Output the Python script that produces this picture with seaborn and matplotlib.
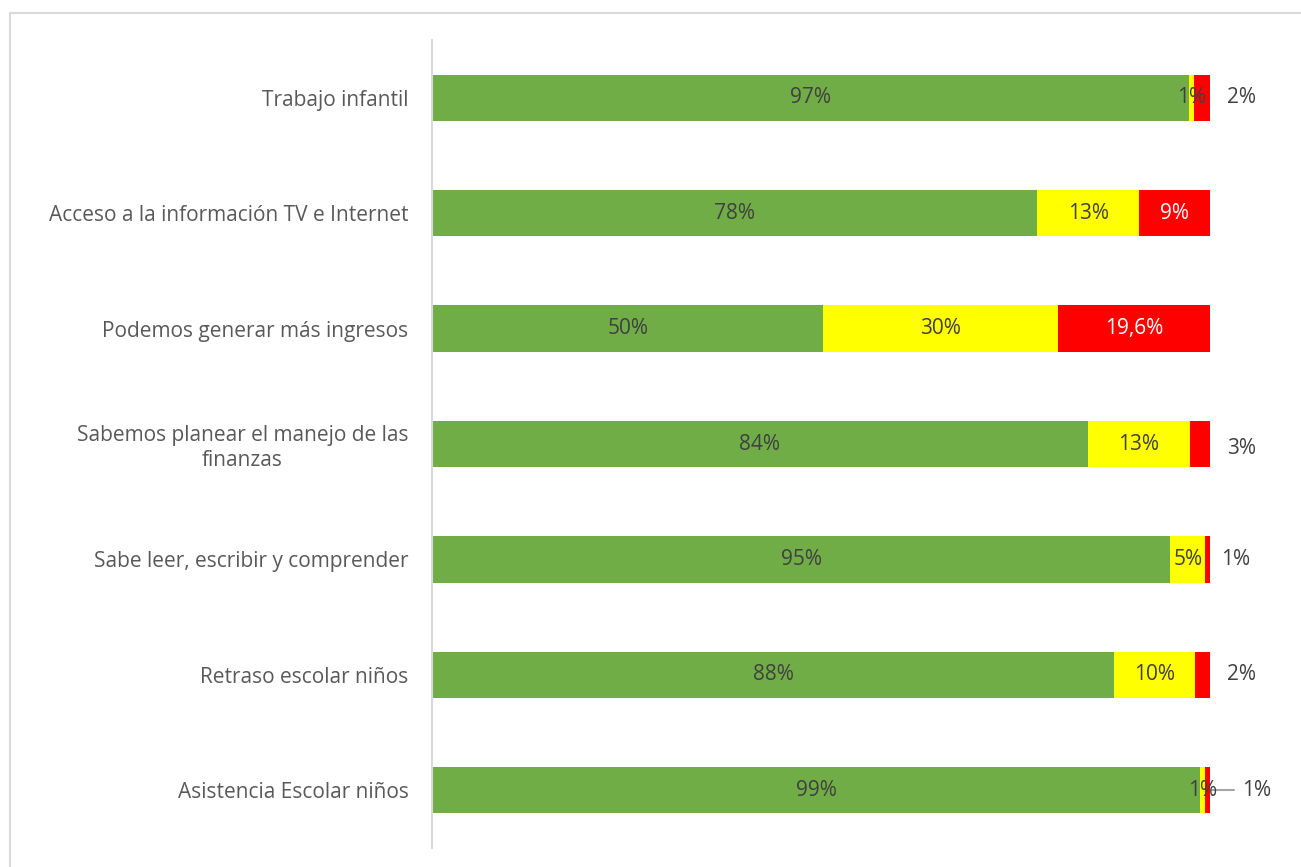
import matplotlib
matplotlib.use("Agg")
import matplotlib.pyplot as plt
import seaborn as sns
import pandas as pd

# Data (percent of respondents)
categories = [
    "Trabajo infantil",
    "Acceso a la información TV e Internet",
    "Podemos generar más ingresos",
    "Sabemos planear el manejo de las\nfinanzas",
    "Sabe leer, escribir y comprender",
    "Retraso escolar niños",
    "Asistencia Escolar niños",
]
green_vals = [97.3, 77.8, 50.3, 84.3, 94.9, 87.7, 98.7]
yellow_vals = [0.7, 13.1, 30.1, 13.1, 4.5, 10.4, 0.65]
red_vals = [2.0, 9.1, 19.6, 2.6, 0.6, 1.9, 0.65]

green_labels = ["97%", "78%", "50%", "84%", "95%", "88%", "99%"]
yellow_labels = ["1%", "13%", "30%", "13%", "5%", "10%", "1%"]
red_labels = ["2%", "9%", "19,6%", "3%", "1%", "2%", "1%"]

GREEN, YELLOW, RED = "#70AD47", "#FFFF00", "#FF0000"
TXT = "#404040"

df = pd.DataFrame({"cat": categories, "g": green_vals, "y": yellow_vals, "r": red_vals})
df["gy"] = df["g"] + df["y"]
df["tot"] = df["gy"] + df["r"]

sns.set_style("white")
plt.rcParams["font.family"] = ["Open Sans", "DejaVu Sans"]

fig = plt.figure(figsize=(13.01, 8.67), dpi=100)
ax = fig.add_axes([432 / 1301, 1 - 848 / 867, (1210 - 432) / 1301, (848 - 40) / 867])

# stacked bars: draw cumulative totals back to front
for col, c in [("tot", RED), ("gy", YELLOW), ("g", GREEN)]:
    sns.barplot(data=df, x=col, y="cat", color=c, width=0.4, saturation=1,
                linewidth=0, ax=ax, orient="h")

fs = 15
for i, row in df.iterrows():
    ax.text(row["g"] / 2, i, green_labels[i], ha="center", va="center", color=TXT, fontsize=fs)
    ax.text(row["g"] + row["y"] / 2, i, yellow_labels[i], ha="center", va="center", color=TXT, fontsize=fs)
    if row["r"] > 5:
        ax.text(row["gy"] + row["r"] / 2, i, red_labels[i], ha="center", va="center", color="white", fontsize=fs)

# small red segments labelled outside the bar
outside = {0: (104.1, 0.0), 3: (104.1, 0.04), 4: (103.3, 0.0), 5: (104.1, 0.0), 6: (106.0, 0.0)}
for i, (xpos, dy) in outside.items():
    ax.text(xpos, i + dy, red_labels[i], ha="center", va="center", color=TXT, fontsize=fs, clip_on=False)
ax.plot([100.3, 103.1], [6, 6], color="#A6A6A6", lw=1.5, clip_on=False)

ax.set_xlim(0, 100)
ax.set_ylim(6.5, -0.5)
ax.set_xlabel("")
ax.set_ylabel("")
ax.set_xticks([])
for s in ["top", "right", "bottom"]:
    ax.spines[s].set_visible(False)
ax.spines["left"].set_color("#D9D9D9")
ax.spines["left"].set_linewidth(1.5)
ax.tick_params(axis="y", length=0, pad=17, labelsize=fs, labelcolor="#595959")
for lbl in ax.get_yticklabels():
    lbl.set_multialignment("center")

# light chart-area border (right and bottom edges fall outside the image)
fig.add_artist(plt.Rectangle((10 / 1301, -0.1), 1.0, 1.1 - 13 / 867, transform=fig.transFigure,
                             fill=False, edgecolor="#D9D9D9", lw=1.5))

fig.savefig("out.png", dpi=100)
